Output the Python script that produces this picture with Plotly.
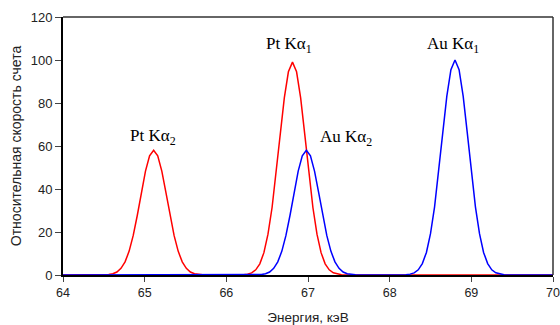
import plotly.graph_objects as go

# Pt spectrum (red): Kα2 and Kα1 peaks
pt_energy = [64.0, 64.46, 64.51, 64.56, 64.61, 64.66, 64.71, 64.76, 64.81, 64.86, 64.91, 64.96, 65.01, 65.06,
             65.11, 65.16, 65.21, 65.26, 65.31, 65.36, 65.41, 65.46, 65.51, 65.56, 65.61, 65.66, 65.71, 65.76,
             66.16, 66.21, 66.26, 66.31, 66.36, 66.41, 66.46, 66.51, 66.56, 66.61, 66.66, 66.71, 66.76,
             66.81, 66.86, 66.91, 66.96, 67.01, 67.06, 67.11, 67.16, 67.21, 67.26, 67.31, 67.36, 67.41, 67.46, 70.0]
pt_counts = [0, 0, 0.08, 0.2, 0.6, 1.4, 3.1, 6.1, 11.1, 18.4, 27.8, 38.4, 48.3, 55.4,
             58, 55.4, 48.3, 38.4, 27.8, 18.4, 11.1, 6.1, 3.1, 1.4, 0.6, 0.2, 0.08, 0,
             0, 0.13, 0.4, 1.0, 2.4, 5.2, 10.4, 19.0, 31.4, 47.5, 65.5, 82.4, 94.5,
             99, 94.5, 82.4, 65.5, 47.5, 31.4, 19.0, 10.4, 5.2, 2.4, 1.0, 0.4, 0.13, 0, 0]

# Au spectrum (blue): Kα2 and Kα1 peaks
au_energy = [64.0, 66.33, 66.38, 66.43, 66.48, 66.53, 66.58, 66.63, 66.68, 66.73, 66.78, 66.83, 66.88, 66.93,
             66.98, 67.03, 67.08, 67.13, 67.18, 67.23, 67.28, 67.33, 67.38, 67.43, 67.48, 67.53, 67.58, 67.63,
             68.15, 68.20, 68.25, 68.30, 68.35, 68.40, 68.45, 68.50, 68.55, 68.60, 68.65, 68.70, 68.75,
             68.80, 68.85, 68.90, 68.95, 69.00, 69.05, 69.10, 69.15, 69.20, 69.25, 69.30, 69.35, 69.40, 69.45, 70.0]
au_counts = [0, 0, 0.08, 0.2, 0.6, 1.4, 3.1, 6.1, 11.1, 18.4, 27.8, 38.4, 48.3, 55.4,
             58, 55.4, 48.3, 38.4, 27.8, 18.4, 11.1, 6.1, 3.1, 1.4, 0.6, 0.2, 0.08, 0,
             0, 0.13, 0.4, 1.0, 2.4, 5.3, 10.5, 19.2, 31.7, 48.0, 66.2, 83.2, 95.5,
             100, 95.5, 83.2, 66.2, 48.0, 31.7, 19.2, 10.5, 5.3, 2.4, 1.0, 0.4, 0.13, 0, 0]

# Peak labels
label_text = ["Pt Kα<sub>2</sub>", "Pt Kα<sub>1</sub>", "Au Kα<sub>2</sub>", "Au Kα<sub>1</sub>"]
label_x = [65.1, 66.77, 67.46, 68.77]
label_y = [64, 107, 63.5, 107]

fig = go.Figure()
fig.add_trace(go.Scatter(x=pt_energy, y=pt_counts, mode="lines",
                         line=dict(color="#FF0000", width=1.5), showlegend=False))
fig.add_trace(go.Scatter(x=au_energy, y=au_counts, mode="lines",
                         line=dict(color="#0000FF", width=1.5), showlegend=False))

for t, x, y in zip(label_text, label_x, label_y):
    fig.add_annotation(x=x, y=y, text=t, showarrow=False, xanchor="center", yanchor="middle",
                       font=dict(family="Liberation Serif, Times New Roman, serif", size=17, color="black"))

# top and right border
fig.add_shape(type="line", xref="paper", yref="paper", x0=0, x1=1, y0=1, y1=1,
              line=dict(color="#333333", width=1.5))
fig.add_shape(type="line", xref="paper", yref="paper", x0=1, x1=1, y0=0, y1=1,
              line=dict(color="#333333", width=1.5))

fig.update_layout(
    width=560, height=325,
    margin=dict(l=63, r=7, t=17, b=50),
    paper_bgcolor="white", plot_bgcolor="white",
    font=dict(family="Liberation Sans, Arial, sans-serif", size=13, color="#222222"),
    xaxis=dict(range=[64, 70], dtick=1, tick0=64, ticks="outside", ticklen=5, automargin=False,
               showline=True, linecolor="black", linewidth=1.5, showgrid=False, zeroline=False,
               tickfont=dict(size=12.5),
               title=dict(text="Энергия, кэВ", standoff=16, font=dict(size=13.5))),
    yaxis=dict(range=[0, 120], dtick=20, ticks="outside", ticklen=6, automargin=False,
               showline=True, linecolor="black", linewidth=2, showgrid=False, zeroline=False,
               tickfont=dict(size=13),
               title=dict(text="Относительная скорость счета", standoff=6, font=dict(size=14))),
)

fig.write_html("out.html")
